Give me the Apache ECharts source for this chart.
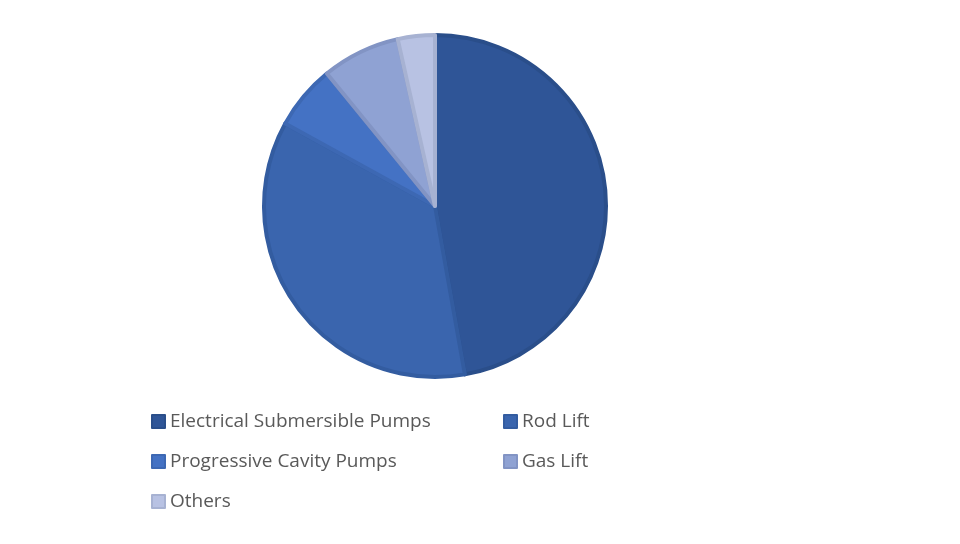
<!DOCTYPE html><html><head><meta charset="utf-8"><script src="https://cdn.jsdelivr.net/npm/echarts@6/dist/echarts.min.js"></script></head><body style="margin:0"><div id="c" style="width:960px;height:544px"></div><script>
const categories=["Electrical Submersible Pumps","Rod Lift","Progressive Cavity Pumps","Gas Lift","Others"];
const values=[47.2,35.8,6.1,7.4,3.5];
const colors=["#2f5597","#3a65ae","#4472c4","#8fa2d3","#b8c2e3"];
const borders=["#2a4e8a","#335ca0","#3d68b3","#8294c4","#a7b2d2"];
const ch=echarts.init(document.getElementById('c'));
const leg={orient:'vertical',itemWidth:13,itemHeight:13,itemGap:21,icon:'rect',textStyle:{fontSize:19,color:'#595959',fontFamily:'Open Sans'}};
ch.setOption({animation:false,
legend:[Object.assign({left:146,top:407,data:[categories[0],categories[2],categories[4]]},leg),
Object.assign({left:498,top:407,data:[categories[1],categories[3]]},leg)],
series:[{type:'pie',center:[435,206],radius:171,startAngle:90,clockwise:true,label:{show:false},labelLine:{show:false},
data:categories.map((n,i)=>({name:n,value:values[i],itemStyle:{color:colors[i],borderColor:borders[i],borderWidth:4}}))}]});
</script></body></html>
